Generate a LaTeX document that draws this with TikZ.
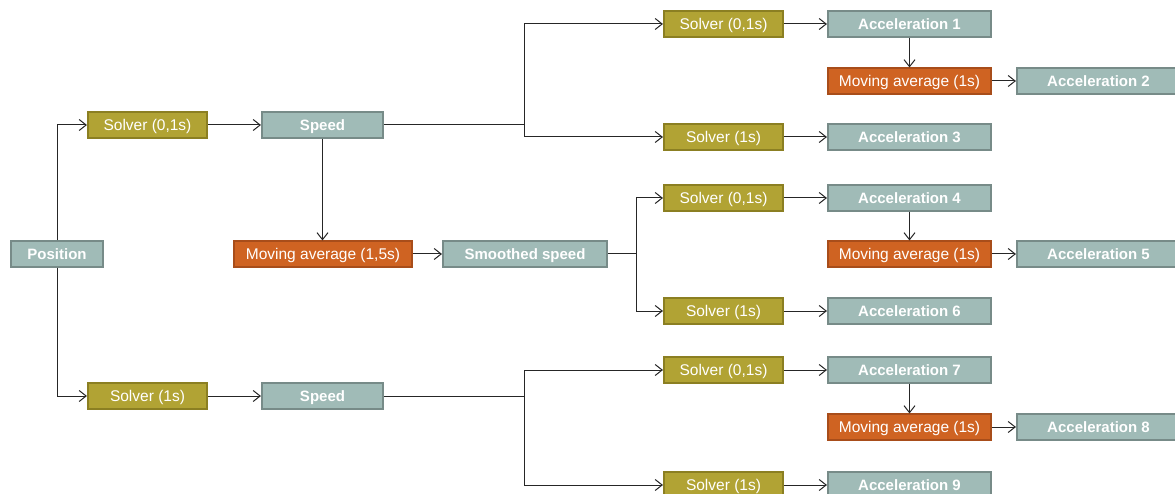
\documentclass[tikz,border=0pt]{standalone}
\usepackage{fontspec}
\setmainfont{Liberation Sans}
\usetikzlibrary{arrows.meta}
\definecolor{olivefill}{HTML}{B1A334}
\definecolor{oliveline}{HTML}{8B7F22}
\definecolor{greyfill}{HTML}{A0BBB7}
\definecolor{greyline}{HTML}{778B88}
\definecolor{orangefill}{HTML}{CF6322}
\definecolor{orangeline}{HTML}{A84D1A}
\tikzset{
  box/.style={rectangle, inner sep=0pt, minimum height=25.5pt, line width=1.6pt,
    text height=12pt, text depth=1.3pt,
    text=white, font=\fontsize{15.5}{18}\selectfont},
  solverbox/.style={box, fill=olivefill, draw=oliveline, minimum width=119.5pt},
  signalbox/.style={box, fill=greyfill, draw=greyline, font=\fontsize{15}{18}\selectfont\bfseries},
  filterbox/.style={box, fill=orangefill, draw=orangeline},
  arr/.style={draw=black!85, line width=1pt, -{Straight Barb[length=7pt,width=11pt]}},
  ln/.style={draw=black!85, line width=1pt},
}
\begin{document}
\begin{tikzpicture}[x=1pt,y=-1pt]
\clip (0,0) rectangle (1175,494);
\fill[white] (0,0) rectangle (1175,494);

% left part: position, two solvers, speeds, smoothing
\node[signalbox, minimum width=92.5pt] (pos) at (57,254) {Position};
\node[solverbox] (s1) at (147.5,125) {Solver (0,1s)};
\node[signalbox, minimum width=121.5pt] (sp1) at (322.5,125) {Speed};
\node[filterbox, minimum width=178.5pt] (ma0) at (323,254) {Moving average (1,5s)};
\node[signalbox, minimum width=164.5pt] (ssp) at (525,254) {Smoothed speed};
\node[solverbox] (s2) at (147.5,396) {Solver (1s)};
\node[signalbox, minimum width=121.5pt] (sp2) at (322.5,396) {Speed};

\draw[arr] (pos.north) |- (s1);
\draw[arr] (pos.south) |- (s2);
\draw[arr] (s1) -- (sp1);
\draw[arr] (s2) -- (sp2);
\draw[arr] (sp1.south) -- (sp1.south |- ma0.north);
\draw[arr] (ma0) -- (ssp);

% junctions feeding the three acceleration groups
\coordinate (j1) at (524,125);
\coordinate (j2) at (636,254);
\coordinate (j3) at (524,396);
\draw[ln] (sp1.east) -- (j1);
\draw[ln] (ssp.east) -- (j2);
\draw[ln] (sp2.east) -- (j3);

% acceleration groups
\foreach \g/\ya/\yb/\yc/\n in {1/24/81/137/1, 2/198/254/311/4, 3/370/427/485/7}{
  \pgfmathtruncatemacro{\nb}{\n+1}
  \pgfmathtruncatemacro{\nc}{\n+2}
  \node[solverbox] (ra\g) at (723.5,\ya) {Solver (0,1s)};
  \node[solverbox] (rc\g) at (723.5,\yc) {Solver (1s)};
  \node[signalbox, minimum width=163.5pt] (aa\g) at (909.5,\ya) {Acceleration \n};
  \node[filterbox, minimum width=163.5pt] (mb\g) at (909.5,\yb) {Moving average (1s)};
  \node[signalbox, minimum width=163.5pt] (ab\g) at (1098.5,\yb) {Acceleration \nb};
  \node[signalbox, minimum width=163.5pt] (ac\g) at (909.5,\yc) {Acceleration \nc};
  \draw[arr] (j\g) |- (ra\g);
  \draw[arr] (j\g) |- (rc\g);
  \draw[arr] (ra\g) -- (aa\g);
  \draw[arr] (aa\g) -- (mb\g);
  \draw[arr] (mb\g) -- (ab\g);
  \draw[arr] (rc\g) -- (ac\g);
}
\end{tikzpicture}
\end{document}
